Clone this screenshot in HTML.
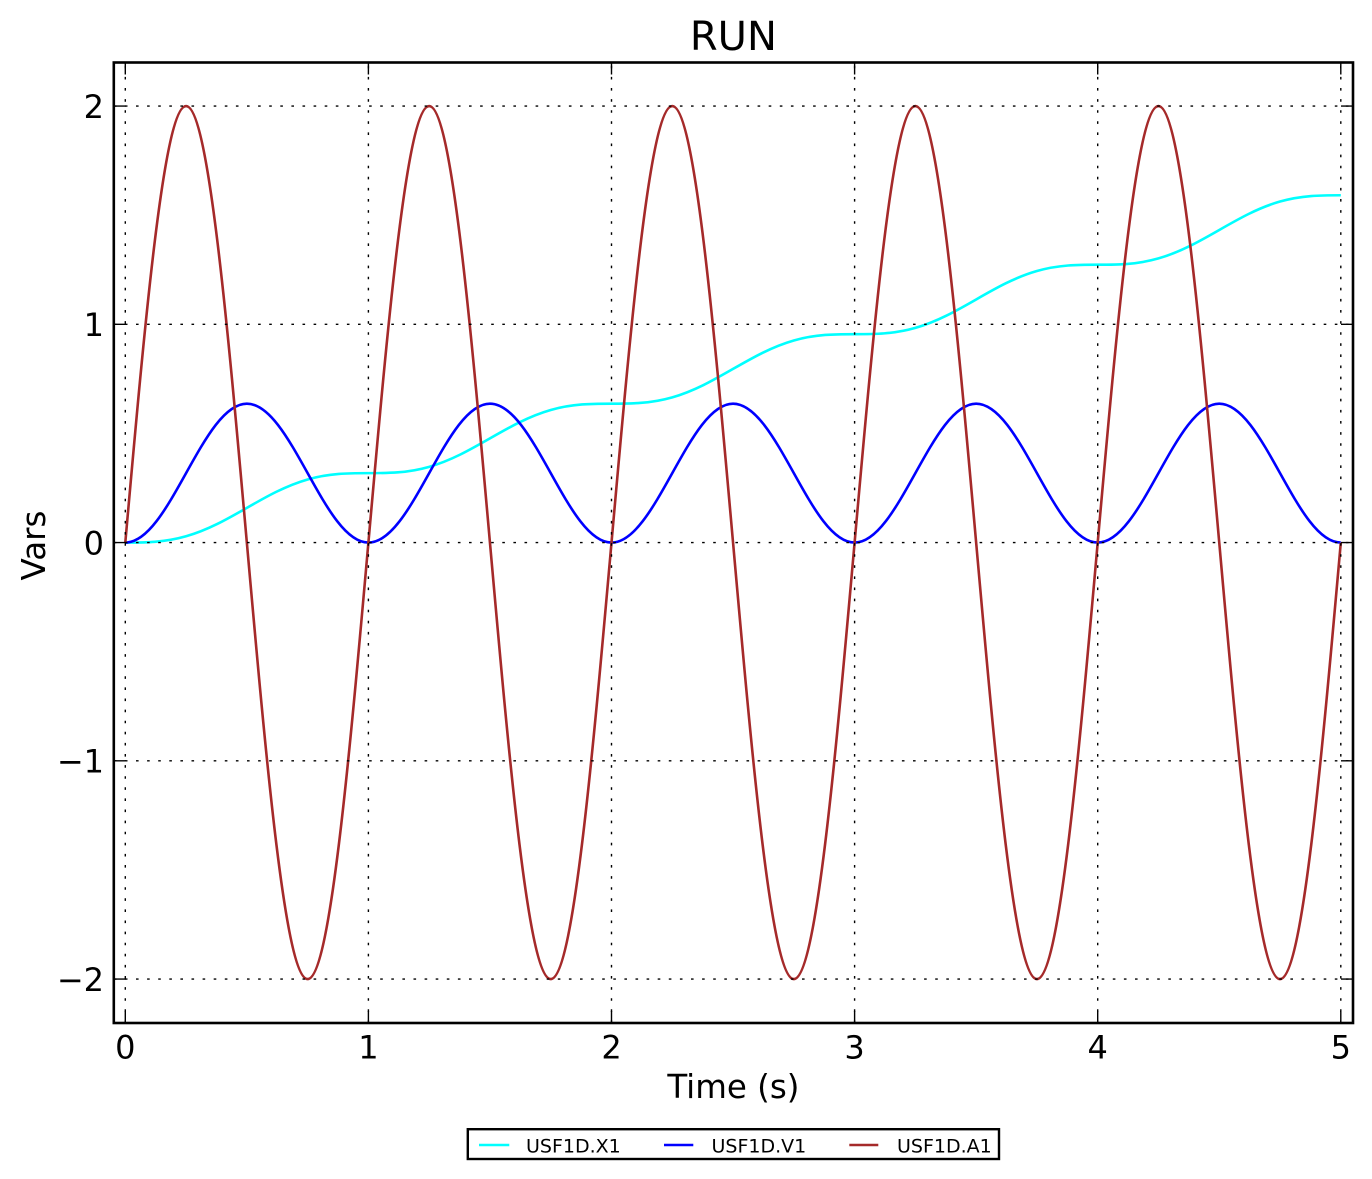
<!DOCTYPE html>
<html>
<head>
<meta charset="utf-8">
<style>
  html,body{margin:0;padding:0;background:#fff;}
  svg{display:block;}
  text{font-family:"DejaVu Sans","Liberation Sans",sans-serif;fill:#000;}
</style>
</head>
<body>
<svg width="1372" height="1179" viewBox="0 0 1372 1179" xmlns="http://www.w3.org/2000/svg">
  <rect x="0" y="0" width="1372" height="1179" fill="#fff"/>

  <!-- curves -->
  <g fill="none" stroke-width="2.6" stroke-linejoin="round">
    <!-- X1 cyan -->
    <path stroke="#00ffff" d="M125.3 542.6
      c19.821 0 38.780 -0.025 60.775 -6.311 c21.995 -6.286 40.954 -17.096 60.775 -28.425 c19.821 -11.328 38.780 -22.139 60.775 -28.425 c21.995 -6.286 40.954 -6.310 60.775 -6.311
      c19.821 0 38.780 -0.025 60.775 -6.311 c21.995 -6.286 40.954 -17.096 60.775 -28.425 c19.821 -11.328 38.780 -22.139 60.775 -28.425 c21.995 -6.286 40.954 -6.310 60.775 -6.311
      c19.821 0 38.780 -0.025 60.775 -6.311 c21.995 -6.286 40.954 -17.096 60.775 -28.425 c19.821 -11.328 38.780 -22.139 60.775 -28.425 c21.995 -6.286 40.954 -6.310 60.775 -6.311
      c19.821 0 38.780 -0.025 60.775 -6.311 c21.995 -6.286 40.954 -17.096 60.775 -28.425 c19.821 -11.328 38.780 -22.139 60.775 -28.425 c21.995 -6.286 40.954 -6.310 60.775 -6.311
      c19.821 0 38.780 -0.025 60.775 -6.311 c21.995 -6.286 40.954 -17.096 60.775 -28.425 c19.821 -11.328 38.780 -22.139 60.775 -28.425 c21.995 -6.286 40.954 -6.310 60.775 -6.311"/>
    <!-- V1 blue -->
    <path stroke="#0000ff" d="M125.3 542.6
      c21.995 0 40.954 -33.88 60.775 -69.47 c19.821 -35.59 38.780 -69.47 60.775 -69.47 c21.995 0 40.954 33.88 60.775 69.47 c19.821 35.59 38.780 69.47 60.775 69.47
      c21.995 0 40.954 -33.88 60.775 -69.47 c19.821 -35.59 38.780 -69.47 60.775 -69.47 c21.995 0 40.954 33.88 60.775 69.47 c19.821 35.59 38.780 69.47 60.775 69.47
      c21.995 0 40.954 -33.88 60.775 -69.47 c19.821 -35.59 38.780 -69.47 60.775 -69.47 c21.995 0 40.954 33.88 60.775 69.47 c19.821 35.59 38.780 69.47 60.775 69.47
      c21.995 0 40.954 -33.88 60.775 -69.47 c19.821 -35.59 38.780 -69.47 60.775 -69.47 c21.995 0 40.954 33.88 60.775 69.47 c19.821 35.59 38.780 69.47 60.775 69.47
      c21.995 0 40.954 -33.88 60.775 -69.47 c19.821 -35.59 38.780 -69.47 60.775 -69.47 c21.995 0 40.954 33.88 60.775 69.47 c19.821 35.59 38.780 69.47 60.775 69.47"/>
    <!-- A1 brown -->
    <path stroke="#a52a2a" d="M125.3 542.6
      c19.821 -223.62 38.780 -436.5 60.775 -436.5 c21.995 0 40.954 212.88 60.775 436.5 c19.821 223.62 38.780 436.5 60.775 436.5 c21.995 0 40.954 -212.88 60.775 -436.5
      c19.821 -223.62 38.780 -436.5 60.775 -436.5 c21.995 0 40.954 212.88 60.775 436.5 c19.821 223.62 38.780 436.5 60.775 436.5 c21.995 0 40.954 -212.88 60.775 -436.5
      c19.821 -223.62 38.780 -436.5 60.775 -436.5 c21.995 0 40.954 212.88 60.775 436.5 c19.821 223.62 38.780 436.5 60.775 436.5 c21.995 0 40.954 -212.88 60.775 -436.5
      c19.821 -223.62 38.780 -436.5 60.775 -436.5 c21.995 0 40.954 212.88 60.775 436.5 c19.821 223.62 38.780 436.5 60.775 436.5 c21.995 0 40.954 -212.88 60.775 -436.5
      c19.821 -223.62 38.780 -436.5 60.775 -436.5 c21.995 0 40.954 212.88 60.775 436.5 c19.821 223.62 38.780 436.5 60.775 436.5 c21.995 0 40.954 -212.88 60.775 -436.5"/>
  </g>

  <!-- grid -->
  <g stroke="#000" stroke-width="1.4" stroke-dasharray="2.6 8.5" fill="none">
    <path d="M113.8 106.1H1353"/>
    <path d="M113.8 324.35H1353"/>
    <path d="M113.8 542.6H1353"/>
    <path d="M113.8 760.85H1353"/>
    <path d="M113.8 979.1H1353"/>
    <path d="M125.3 1023V62.5"/>
    <path d="M368.4 1023V62.5"/>
    <path d="M611.5 1023V62.5"/>
    <path d="M854.6 1023V62.5"/>
    <path d="M1097.7 1023V62.5"/>
    <path d="M1340.8 1023V62.5"/>
  </g>

  <!-- ticks -->
  <g stroke="#000" stroke-width="1.4" fill="none">
    <path d="M125.3 1023v-12M368.4 1023v-12M611.5 1023v-12M854.6 1023v-12M1097.7 1023v-12M1340.8 1023v-12"/>
    <path d="M125.3 62.5v12M368.4 62.5v12M611.5 62.5v12M854.6 62.5v12M1097.7 62.5v12M1340.8 62.5v12"/>
    <path d="M113.8 106.1h12M113.8 324.35h12M113.8 542.6h12M113.8 760.85h12M113.8 979.1h12"/>
    <path d="M1353 106.1h-12M1353 324.35h-12M1353 542.6h-12M1353 760.85h-12M1353 979.1h-12"/>
  </g>

  <!-- spines -->
  <rect x="113.8" y="62.5" width="1239.2" height="960.5" fill="none" stroke="#000" stroke-width="2.6"/>

  <!-- tick labels -->
  <g font-size="32" text-anchor="middle">
    <text x="125.3" y="1058.5">0</text>
    <text x="368.4" y="1058.5">1</text>
    <text x="611.5" y="1058.5">2</text>
    <text x="854.6" y="1058.5">3</text>
    <text x="1097.7" y="1058.5">4</text>
    <text x="1340.8" y="1058.5">5</text>
  </g>
  <g font-size="32" text-anchor="end">
    <text x="104" y="117.8">2</text>
    <text x="104" y="336.05">1</text>
    <text x="104" y="554.3">0</text>
    <text x="104" y="772.55">−1</text>
    <text x="104" y="990.8">−2</text>
  </g>

  <!-- title & axis labels -->
  <text x="733.4" y="50" font-size="40" text-anchor="middle">RUN</text>
  <text x="733.4" y="1098" font-size="32.5" text-anchor="middle">Time (s)</text>
  <text transform="translate(45 545.5) rotate(-90)" font-size="32.5" text-anchor="middle">Vars</text>

  <!-- legend -->
  <rect x="467.8" y="1129.2" width="531.2" height="29.8" fill="#fff" stroke="#000" stroke-width="2.4"/>
  <g stroke-width="2.6">
    <path d="M479 1145H509.3" stroke="#00ffff"/>
    <path d="M664 1145H693.3" stroke="#0000ff"/>
    <path d="M849.3 1145H878.3" stroke="#a52a2a"/>
  </g>
  <g font-size="19">
    <text x="526" y="1152.3">USF1D.X1</text>
    <text x="711.5" y="1152.3">USF1D.V1</text>
    <text x="897" y="1152.3">USF1D.A1</text>
  </g>
</svg>
</body>
</html>
